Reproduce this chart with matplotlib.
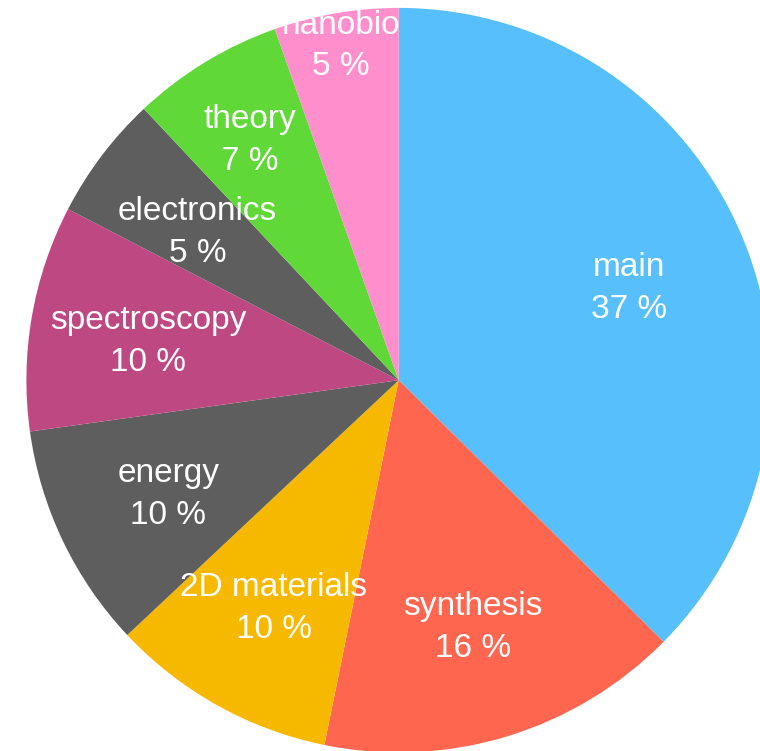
import numpy as np
import matplotlib
matplotlib.use("Agg")
import matplotlib.pyplot as plt

# data (percent of total)
labels = ["main", "synthesis", "2D materials", "energy", "spectroscopy",
          "electronics", "theory", "nanobio"]
shares = [37.4, 15.8, 9.8, 9.8, 9.8, 5.4, 6.6, 5.4]

# styling
colors = ["#56BFFC", "#FF6650", "#F7B900", "#5E5E5E", "#BE4882",
          "#5E5E5E", "#60D838", "#FF8FCC"]
label_r = [0.67, 0.682, 0.688, 0.686, 0.682, 0.678, 0.768, 0.923]

# pie centre sits at (398.7, 380.2) px, radius 372.3 px
R = 372.3
dy_text = -4.5 / R   # labels sit a little below the geometric point

fig = plt.figure(figsize=(7.6, 7.51), dpi=100)
ax = fig.add_axes([0, 0, 1, 1])

wedges, texts = ax.pie(shares, colors=colors, startangle=90, counterclock=False,
                       radius=1, center=(0, 0), labels=None,
                       wedgeprops=dict(linewidth=0))

total = float(sum(shares))
ang = 90.0
for name, v, r in zip(labels, shares, label_r):
    mid = np.deg2rad(ang - v / total * 360 / 2)
    ang -= v / total * 360
    ax.text(r * np.cos(mid), r * np.sin(mid) + dy_text,
            "%s\n%d %%" % (name, round(v)),
            ha="center", va="center", color="white", fontsize=24,
            family="Liberation Sans", linespacing=1.45)

ax.set_xlim(-398.7 / R, (760 - 398.7) / R)
ax.set_ylim(-(751 - 380.2) / R, 380.2 / R)
ax.set_aspect("equal")
ax.axis("off")

fig.savefig("out.png", dpi=100)
